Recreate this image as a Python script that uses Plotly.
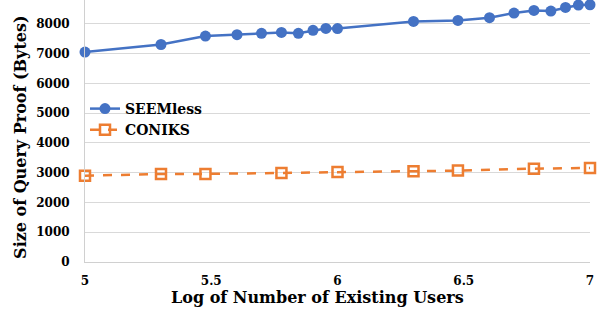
import plotly.graph_objects as go

seemless_x = [5, 5.301, 5.477, 5.602, 5.699, 5.778, 5.845, 5.903, 5.954, 6,
              6.301, 6.477, 6.602, 6.699, 6.778, 6.845, 6.903, 6.954, 7]
seemless_y = [7050, 7305, 7590, 7635, 7680, 7710, 7680, 7780, 7845, 7840,
              8080, 8115, 8205, 8360, 8450, 8430, 8550, 8630, 8640]
coniks_x = [5, 5.301, 5.477, 5.778, 6, 6.301, 6.477, 6.778, 7]
coniks_y = [2900, 2955, 2958, 2990, 3025, 3047, 3070, 3135, 3160]

x_ticks = [5, 5.5, 6, 6.5, 7]
x_tick_labels = ["5", "5.5", "6", "6.5", "7"]
y_ticks = [0, 1000, 2000, 3000, 4000, 5000, 6000, 7000, 8000]

BLUE = "#4472C4"
ORANGE = "#ED7D31"
FONT = "DejaVu Serif"

fig = go.Figure()
fig.add_trace(go.Scatter(
    x=seemless_x, y=seemless_y, name="SEEMless", mode="lines+markers",
    line=dict(color=BLUE, width=2.5),
    marker=dict(symbol="circle", size=11, color=BLUE),
    cliponaxis=False,
))
fig.add_trace(go.Scatter(
    x=coniks_x, y=coniks_y, name="CONIKS", mode="lines+markers",
    line=dict(color=ORANGE, width=2.5, dash="dash"),
    marker=dict(symbol="square-open", size=10, color=ORANGE, line=dict(width=2.5, color=ORANGE)),
    cliponaxis=False,
))

fig.update_layout(
    width=606, height=313,
    margin=dict(l=85, r=16, t=0, b=51, autoexpand=False),
    paper_bgcolor="white", plot_bgcolor="white",
    font=dict(family=FONT, color="black", size=12),
    showlegend=True,
    legend=dict(
        x=0.0, y=0.645, xanchor="left", yanchor="top",
        bgcolor="rgba(0,0,0,0)",
        font=dict(family=FONT, size=14, color="black", weight="bold"),
        tracegroupgap=0, itemwidth=30,
    ),
    xaxis=dict(
        range=[5, 7], tickvals=x_ticks, ticktext=x_tick_labels,
        showgrid=False, zeroline=False, automargin=False,
        showline=True, linecolor="#d0d0d0", linewidth=1,
        ticks="", ticklabelstandoff=8,
        tickfont=dict(family=FONT, size=12, weight="bold"),
    ),
    yaxis=dict(
        range=[0, 8800], tickvals=y_ticks, automargin=False,
        showgrid=True, gridcolor="#d9d9d9", gridwidth=1,
        zeroline=False,
        showline=True, linecolor="#d0d0d0", linewidth=1,
        ticks="", ticklabelstandoff=12,
        tickfont=dict(family=FONT, size=12, weight="bold"),
    ),
    annotations=[
        dict(text="Log of Number of Existing Users", xref="paper", yref="paper",
             x=0.46, y=-0.135, xanchor="center", yanchor="middle", showarrow=False,
             font=dict(family=FONT, size=16, weight="bold")),
        dict(text="Size of Query Proof (Bytes)", xref="paper", yref="paper",
             x=-0.128, y=0.475, xanchor="center", yanchor="middle", showarrow=False,
             textangle=-90, font=dict(family=FONT, size=16, weight="bold")),
    ],
)

fig.write_html("out.html", config={"displayModeBar": False},
               post_script="document.body.style.margin='0';")
